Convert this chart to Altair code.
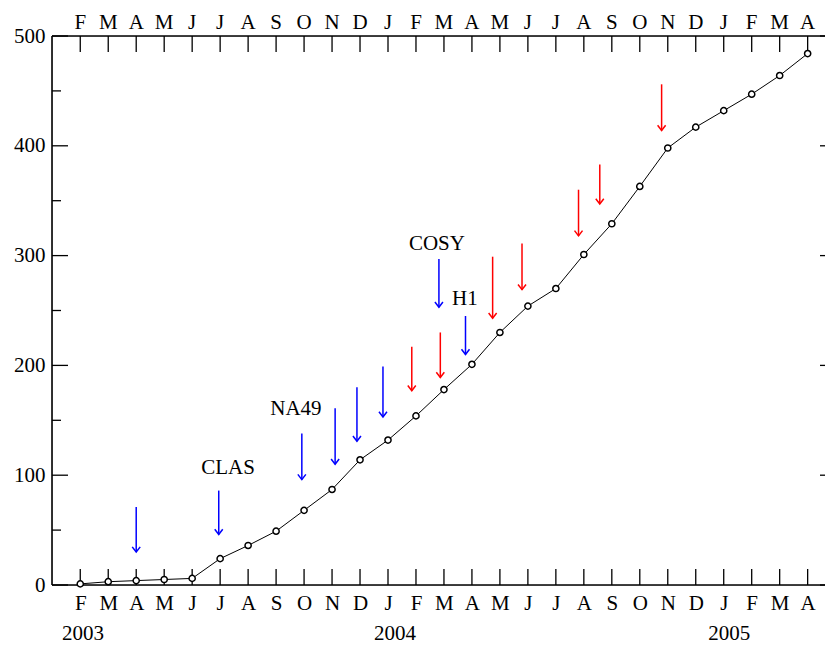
import altair as alt
import pandas as pd

# ---- data ----
months = ["F", "M", "A", "M", "J", "J", "A", "S", "O", "N", "D",
          "J", "F", "M", "A", "M", "J", "J", "A", "S", "O", "N", "D",
          "J", "F", "M", "A"]
counts = [1, 3, 4, 5, 6, 24, 36, 49, 68, 87, 114, 132, 154, 178, 201,
          230, 254, 270, 301, 329, 363, 398, 417, 432, 447, 464, 484]

arrow_x = [2.0, 4.95, 7.92, 9.11, 9.89, 10.82, 12.82, 13.77,
           11.85, 12.87, 14.74, 15.79, 17.81, 18.57, 20.78]
arrow_top = [71, 86, 138, 161, 180, 199, 297, 245,
             217, 230, 299, 311, 360, 383, 456]
arrow_tip = [30, 46, 96, 110, 131, 153, 253, 210,
             177, 189, 243, 269, 318, 347, 414]
arrow_kind = ["blue"] * 8 + ["red"] * 7

label_text = ["CLAS", "NA49", "COSY", "H1"]
label_x = [5.28, 7.71, 12.75, 13.75]
label_y = [101, 155, 305, 255]

years = ["2003", "2004", "2005"]
year_x = [0.1, 11.25, 23.2]

y_major = [0, 100, 200, 300, 400, 500]
y_minor = [50, 150, 250, 350, 450]

# ---- layout ----
W, H = 773, 549
FONT = "Liberation Serif"
FS = 21

df = pd.DataFrame({"idx": list(range(len(months))), "month": months, "count": counts})
arrows = pd.DataFrame({"x": arrow_x, "top": arrow_top, "tip": arrow_tip, "kind": arrow_kind})
labels = pd.DataFrame({"x": label_x, "y": label_y, "text": label_text})
yrs = pd.DataFrame({"x": year_x, "text": years})
ymaj = pd.DataFrame({"v": y_major})
ymin = pd.DataFrame({"v": y_minor})
one = pd.DataFrame({"a": [0]})

xs = alt.Scale(domain=[-1.01, 26.62], nice=False, zero=False)
ys = alt.Scale(domain=[0, 500], nice=False, zero=True)

label_arr = "[" + ",".join("'%s'" % m for m in months) + "]"
xaxis = alt.Axis(values=list(range(len(months))), labelExpr=label_arr + "[datum.value]",
                 ticks=False, tickSize=0, domain=False, grid=False, title=None,
                 labelFont=FONT, labelFontSize=FS, labelColor="black",
                 labelPadding=7, labelFlush=False, labelOverlap=False)
yaxis = alt.Axis(values=y_major, ticks=False, tickSize=0, domain=False, grid=False,
                 title=None, labelFont=FONT, labelFontSize=FS, labelColor="black",
                 labelPadding=7)

X = lambda f: alt.X(f, type="quantitative", scale=xs, axis=xaxis)
Y = lambda f: alt.Y(f, type="quantitative", scale=ys, axis=yaxis)

frame_top = alt.Chart(one).mark_rule(color="black", strokeWidth=1.6).encode(
    x=alt.value(0), x2=alt.value(W), y=alt.value(0))
frame_bot = alt.Chart(one).mark_rule(color="black", strokeWidth=1.6).encode(
    x=alt.value(0), x2=alt.value(W), y=alt.value(H))
frame_left = alt.Chart(one).mark_rule(color="black", strokeWidth=1.6).encode(
    x=alt.value(0), y=alt.value(0), y2=alt.value(H))

tick_bot = alt.Chart(df).mark_rule(color="black", strokeWidth=1.3).encode(
    x=X("idx"), y=alt.value(H), y2=alt.value(H - 16))
tick_top = alt.Chart(df).mark_rule(color="black", strokeWidth=1.3).encode(
    x=X("idx"), y=alt.value(0), y2=alt.value(16))
tick_ymaj = alt.Chart(ymaj).mark_rule(color="black", strokeWidth=1.3).encode(
    y=Y("v"), x=alt.value(0), x2=alt.value(16))
tick_ymin = alt.Chart(ymin).mark_rule(color="black", strokeWidth=1.3).encode(
    y=Y("v"), x=alt.value(0), x2=alt.value(9))
tick_right = alt.Chart(ymaj).mark_rule(color="black", strokeWidth=1.3).encode(
    y=Y("v"), x=alt.value(W - 5), x2=alt.value(W))

top_labels = alt.Chart(df).mark_text(font=FONT, fontSize=FS, color="black",
                                     baseline="alphabetic", align="center").encode(
    x=X("idx"), y=alt.value(-7), text="month:N")

year_labels = alt.Chart(yrs).mark_text(font=FONT, fontSize=FS, color="black",
                                       baseline="alphabetic", align="center").encode(
    x=X("x"), y=alt.value(604), text="text:N")

line = alt.Chart(df).mark_line(color="black", strokeWidth=1).encode(
    x=X("idx"), y=Y("count"))
pts = alt.Chart(df).mark_point(shape="circle", size=38, filled=True, fill="white",
                               stroke="black", strokeWidth=1.5, opacity=1).encode(
    x=X("idx"), y=Y("count"))

color = alt.Color("kind:N", scale=alt.Scale(domain=["blue", "red"], range=["#0000ff", "#ff0000"]),
                  legend=None)
shafts = alt.Chart(arrows).mark_rule(strokeWidth=1.5).encode(
    x=X("x"), y=Y("top"), y2="tip", color=color)
heads = alt.Chart(arrows).mark_point(shape="M -1 -1.3 L 0 0 L 1 -1.3", size=64, filled=False,
                                     strokeWidth=1.5, opacity=1).encode(
    x=X("x"), y=Y("tip"), color=color)

ann = alt.Chart(labels).mark_text(font=FONT, fontSize=FS, color="black",
                                  baseline="alphabetic", align="center").encode(
    x=X("x"), y=Y("y"), text="text:N")

chart = alt.layer(
    frame_top, frame_bot, frame_left, tick_bot, tick_top, tick_ymaj, tick_ymin, tick_right,
    top_labels, year_labels, line, pts, shafts, heads, ann
).properties(
    width=W, height=H,
    padding={"left": 52, "top": 36, "right": 0, "bottom": 60},
    autosize=alt.AutoSizeParams(type="none"),
).configure_view(stroke=None).configure(background="white")

chart.save("out.html", embed_options={"renderer": "svg", "actions": False})
